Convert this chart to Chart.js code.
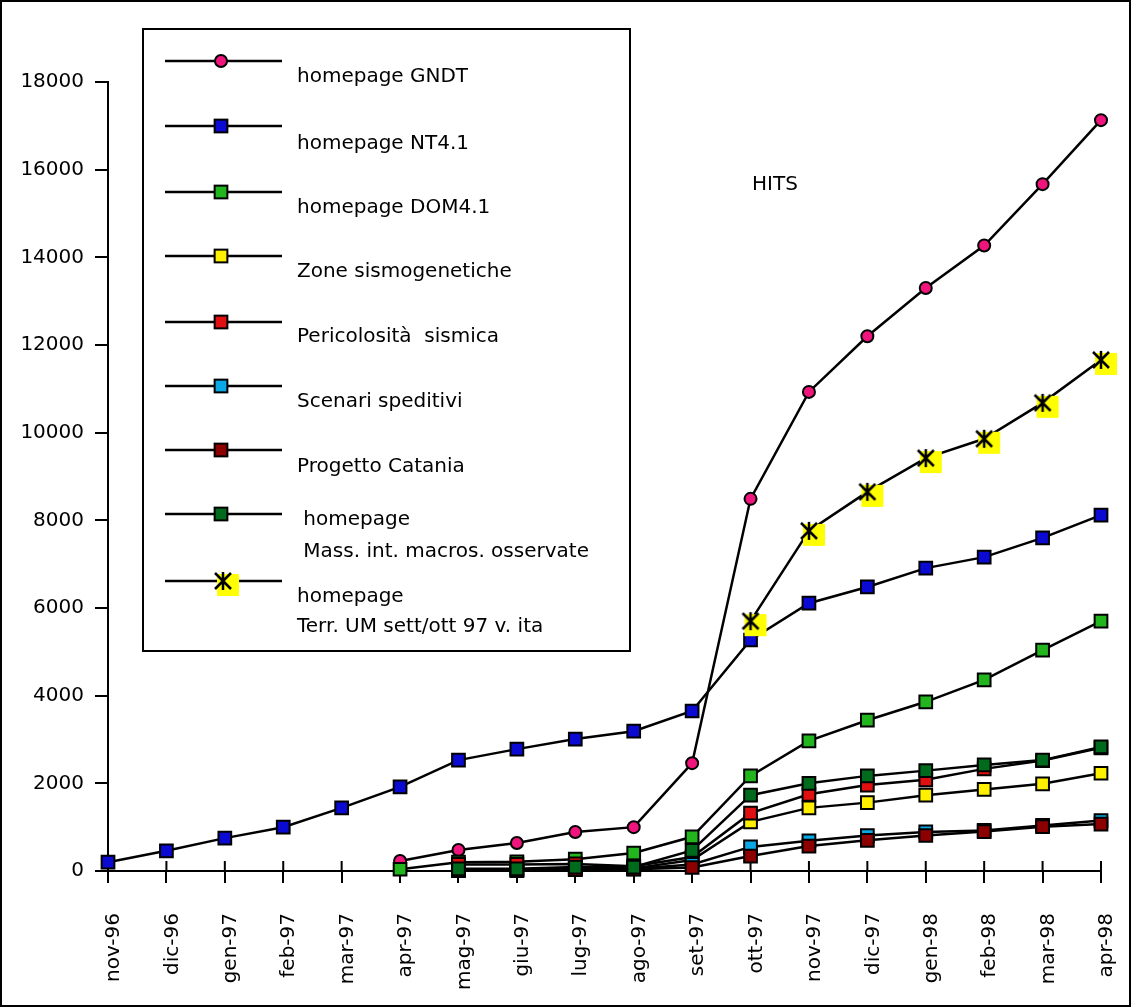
<!DOCTYPE html>
<html>
<head>
<meta charset="utf-8">
<title>HITS</title>
<script src="https://cdn.jsdelivr.net/npm/chart.js@4.4.1/dist/chart.umd.min.js"></script>
<style>
  body { margin: 0; background: #fff; }
  canvas { display: block; }
</style>
</head>
<body>
<canvas id="chart" width="1131" height="1007"></canvas>
<script>
// Months on the x axis
const months = ['nov-96', 'dic-96', 'gen-97', 'feb-97', 'mar-97', 'apr-97', 'mag-97', 'giu-97', 'lug-97',
  'ago-97', 'set-97', 'ott-97', 'nov-97', 'dic-97', 'gen-98', 'feb-98', 'mar-98', 'apr-98'];

// Hits per page (null = page not online yet)
const gndt = [null, null, null, null, null, 230, 480, 640, 890, 1000, 2460, 8490, 10930, 12200, 13300, 14270, 15670, 17130];
const nt41 = [200, 460, 750, 1000, 1440, 1920, 2530, 2780, 3010, 3190, 3650, 5270, 6110, 6480, 6910, 7160, 7600, 8120];
const dom41 = [null, null, null, null, null, 40, 200, 210, 270, 410, 780, 2170, 2970, 3440, 3860, 4360, 5040, 5700];
const zone = [null, null, null, null, null, null, 30, 30, 50, 60, 250, 1120, 1440, 1560, 1730, 1860, 1990, 2230];
const pericolosita = [null, null, null, null, null, null, 150, 150, 160, 110, 320, 1320, 1750, 1960, 2080, 2330, 2520, 2810];
const scenari = [null, null, null, null, null, null, 20, 20, 40, 50, 150, 550, 690, 810, 890, 925, 1040, 1150];
const catania = [null, null, null, null, null, null, 10, 10, 30, 40, 80, 340, 570, 700, 810, 900, 1010, 1070];
const massInt = [null, null, null, null, null, null, 50, 50, 90, 90, 470, 1730, 2000, 2170, 2290, 2420, 2530, 2830];
const terrUM = [null, null, null, null, null, null, null, null, null, null, null, 5700, 7760, 8650, 9420, 9860, 10680, 11660];

// Y axis
const yMax = 18000;
const yStep = 2000;

// Legend texts (multi-line entries split on \n)
const seriesNames = ['homepage GNDT', 'homepage NT4.1', 'homepage DOM4.1', 'Zone sismogenetiche',
  'Pericolosità  sismica', 'Scenari speditivi', 'Progetto Catania',
  ' homepage\n Mass. int. macros. osservate', 'homepage\nTerr. UM sett/ott 97 v. ita'];

const FONT = 'DejaVu Sans';
Chart.defaults.font.family = FONT;
Chart.defaults.font.size = 20;
Chart.defaults.color = '#000';

// star marker with the yellow square behind it, offset down-right
function makeStar() {
  const c = document.createElement('canvas');
  c.width = 40;
  c.height = 40;
  const g = c.getContext('2d');
  g.fillStyle = '#ffff00';
  g.fillRect(14, 13, 22, 22);
  g.strokeStyle = '#000';
  g.lineWidth = 2.5;
  g.beginPath();
  g.moveTo(12, 12); g.lineTo(28, 28);
  g.moveTo(28, 12); g.lineTo(12, 28);
  g.moveTo(20, 11); g.lineTo(20, 29);
  g.stroke();
  return c;
}
const star = makeStar();

function series(i, data, color, style) {
  const isCircle = style === 'circle';
  return {
    label: seriesNames[i].replace('\n', ' '),
    data: data,
    borderColor: '#000',
    borderWidth: 2.5,
    pointStyle: style,
    pointRadius: isCircle ? 6 : 9,
    pointBackgroundColor: color,
    pointBorderColor: '#000',
    pointBorderWidth: 2,
    tension: 0,
    clip: false,
    order: 20 - i
  };
}

const datasets = [
  series(0, gndt, '#f0147d', 'circle'),
  series(1, nt41, '#0a0ad2', 'rect'),
  series(2, dom41, '#22b51e', 'rect'),
  series(3, zone, '#fff000', 'rect'),
  series(4, pericolosita, '#e01010', 'rect'),
  series(5, scenari, '#0aa8e6', 'rect'),
  series(6, catania, '#8c0000', 'rect'),
  series(7, massInt, '#006b1c', 'rect'),
  series(8, terrUM, '#ffff00', star)
];

// x tick marks also poke a bit above the axis line
const crossTicks = {
  id: 'crossTicks',
  beforeDatasetsDraw(chart) {
    const c = chart.ctx;
    const xs = chart.scales.x;
    c.save();
    c.strokeStyle = '#000';
    c.lineWidth = 2;
    c.beginPath();
    xs.ticks.forEach((t, i) => {
      const px = xs.getPixelForTick(i);
      c.moveTo(px, xs.top - 10);
      c.lineTo(px, xs.top);
    });
    c.stroke();
    c.restore();
  }
};

// legend box, "HITS" label and outer frame
const decorations = {
  id: 'decorations',
  afterDraw(chart) {
    const c = chart.ctx;
    c.save();
    c.strokeStyle = '#000';
    c.lineWidth = 2;
    c.strokeRect(1, 1, chart.width - 2, chart.height - 2);

    c.strokeRect(143, 29, 487, 622);
    const rowY = [61, 126, 192, 256, 322, 386, 450, 514, 581];
    const textY = [[77], [144], [208], [272], [337], [402], [467], [520, 552], [597, 627]];
    c.font = '20px "' + FONT + '"';
    c.textBaseline = 'middle';
    c.textAlign = 'left';
    chart.data.datasets.forEach((ds, i) => {
      const y = rowY[i];
      c.beginPath();
      c.moveTo(165, y);
      c.lineTo(282, y);
      c.lineWidth = 2.5;
      c.strokeStyle = '#000';
      c.stroke();
      c.lineWidth = 2;
      const x = 221;
      if (ds.pointStyle === 'circle') {
        c.beginPath();
        c.arc(x, y, ds.pointRadius, 0, Math.PI * 2);
        c.fillStyle = ds.pointBackgroundColor;
        c.fill();
        c.stroke();
      } else if (ds.pointStyle === 'rect') {
        const h = ds.pointRadius * Math.SQRT1_2;
        c.fillStyle = ds.pointBackgroundColor;
        c.fillRect(x - h, y - h, 2 * h, 2 * h);
        c.strokeRect(x - h, y - h, 2 * h, 2 * h);
      } else {
        c.drawImage(ds.pointStyle, x + 2 - ds.pointStyle.width / 2, y - ds.pointStyle.height / 2);
      }
      c.fillStyle = '#000';
      seriesNames[i].split('\n').forEach((line, k) => {
        c.fillText(line, 297, textY[i][k]);
      });
    });

    c.textAlign = 'center';
    c.fillText('HITS', 775, 185);
    c.restore();
  }
};

new Chart(document.getElementById('chart').getContext('2d'), {
  type: 'line',
  data: { labels: months, datasets: datasets },
  options: {
    responsive: false,
    devicePixelRatio: 1,
    animation: false,
    spanGaps: false,
    layout: { padding: { top: 82, right: 30, left: 0, bottom: 0 } },
    plugins: { legend: { display: false }, tooltip: { enabled: false } },
    scales: {
      x: {
        type: 'category',
        offset: false,
        afterFit(scale) {
          scale.height = 136;
          scale.paddingLeft = 0;
          scale.paddingRight = 0;
        },
        grid: { display: true, drawOnChartArea: false, drawTicks: true, tickLength: 12, color: '#000', lineWidth: 2 },
        border: { display: true, color: '#000', width: 2 },
        ticks: { autoSkip: false, minRotation: 90, maxRotation: 90, padding: 30, labelOffset: 6, color: '#000' }
      },
      y: {
        min: 0,
        max: yMax,
        afterFit(scale) { scale.width = 108; },
        grid: { display: true, drawOnChartArea: false, drawTicks: true, tickLength: 13, color: '#000', lineWidth: 2 },
        border: { display: true, color: '#000', width: 2 },
        ticks: { stepSize: yStep, padding: 11, color: '#000', callback: v => String(v) }
      }
    }
  },
  plugins: [crossTicks, decorations]
});
</script>
</body>
</html>
